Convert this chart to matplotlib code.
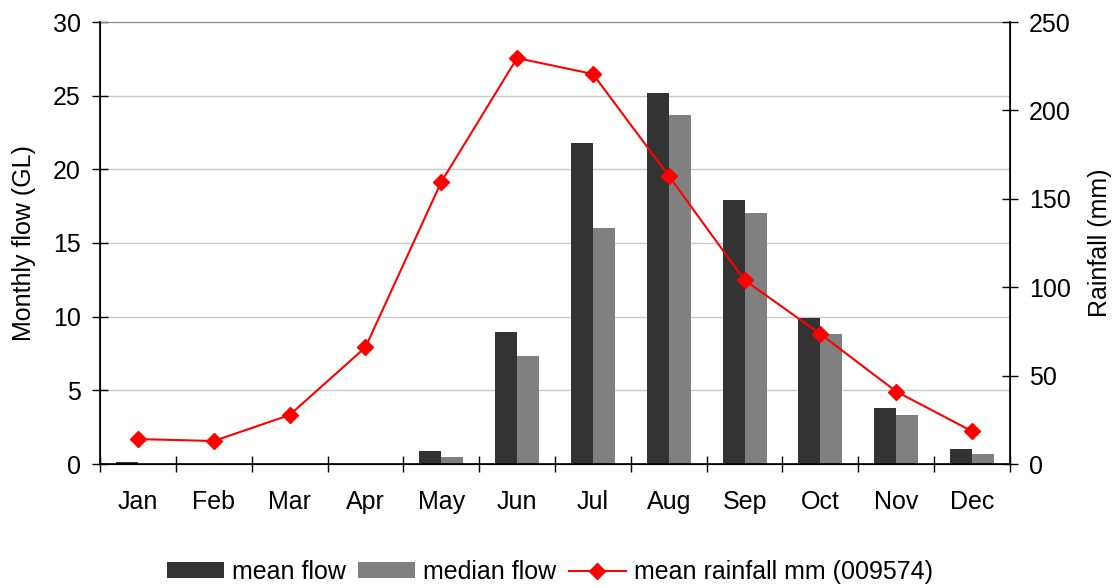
import numpy as np
import matplotlib
matplotlib.use("Agg")
import matplotlib.pyplot as plt

plt.rcParams['font.family'] = ['Liberation Sans', 'DejaVu Sans']

# Data
months = ['Jan', 'Feb', 'Mar', 'Apr', 'May', 'Jun', 'Jul', 'Aug', 'Sep', 'Oct', 'Nov', 'Dec']
mean_flow = [0.15, 0, 0, 0, 0.85, 8.95, 21.8, 25.2, 17.9, 9.9, 3.8, 1.0]
median_flow = [0, 0, 0, 0, 0.45, 7.3, 16.0, 23.7, 17.05, 8.8, 3.3, 0.7]
rainfall = [14.1, 13.0, 27.7, 66.0, 159.5, 229.6, 220.6, 163.0, 104.0, 73.5, 41.0, 18.5]

fs = 18

fig = plt.figure(figsize=(11.17, 5.88), dpi=100)
ax = fig.add_axes([100 / 1117, 124 / 588, 910 / 1117, 442 / 588])
ax2 = ax.twinx()

x = np.arange(len(months))
w = 0.29
b1 = ax.bar(x - w / 2, mean_flow, w, color='#333333', label='mean flow', zorder=2)
b2 = ax.bar(x + w / 2, median_flow, w, color='#808080', label='median flow', zorder=2)
l1, = ax2.plot(x, rainfall, color='red', marker='D', markersize=8, linewidth=1.5,
               label='mean rainfall mm (009574)')

ax.set_xlim(-0.5, 11.5)
ax.set_ylim(0, 30)
ax.set_yticks(range(0, 31, 5))
ax2.set_ylim(0, 250)
ax2.set_yticks(range(0, 251, 50))

ax.set_xticks(x)
ax.set_xticklabels(months)
ax.set_xticks(np.arange(-0.5, 12, 1), minor=True)
ax.tick_params(axis='x', which='major', length=0, pad=19)
ax.tick_params(axis='x', which='minor', direction='inout', length=11.5, width=1)
ax.tick_params(axis='y', direction='inout', length=11.5, width=1, pad=8)
ax2.tick_params(axis='y', direction='inout', length=11.5, width=1, pad=8)
ax.tick_params(labelsize=fs)
ax2.tick_params(labelsize=fs)

ax.yaxis.grid(True, color='#c8c8c8', linewidth=1, zorder=0)
ax.set_axisbelow(True)
ax.spines['top'].set_color('#888888')
for s in ['left', 'bottom']:
    ax.spines[s].set_linewidth(1.2)
ax2.spines['top'].set_visible(False)
ax2.spines['right'].set_linewidth(1.2)

ax.set_ylabel('Monthly flow (GL)', fontsize=fs, labelpad=12)
ax2.set_ylabel('Rainfall (mm)', fontsize=fs, labelpad=12)

fig.legend([b1, b2, l1], ['mean flow', 'median flow', 'mean rainfall mm (009574)'],
           loc='center', bbox_to_anchor=(0.492, 0.027), ncol=3, frameon=False,
           fontsize=fs, handlelength=2.3, handleheight=0.6, handletextpad=0.3,
           columnspacing=0.5, borderpad=0)

fig.savefig('out.png', dpi=100)
